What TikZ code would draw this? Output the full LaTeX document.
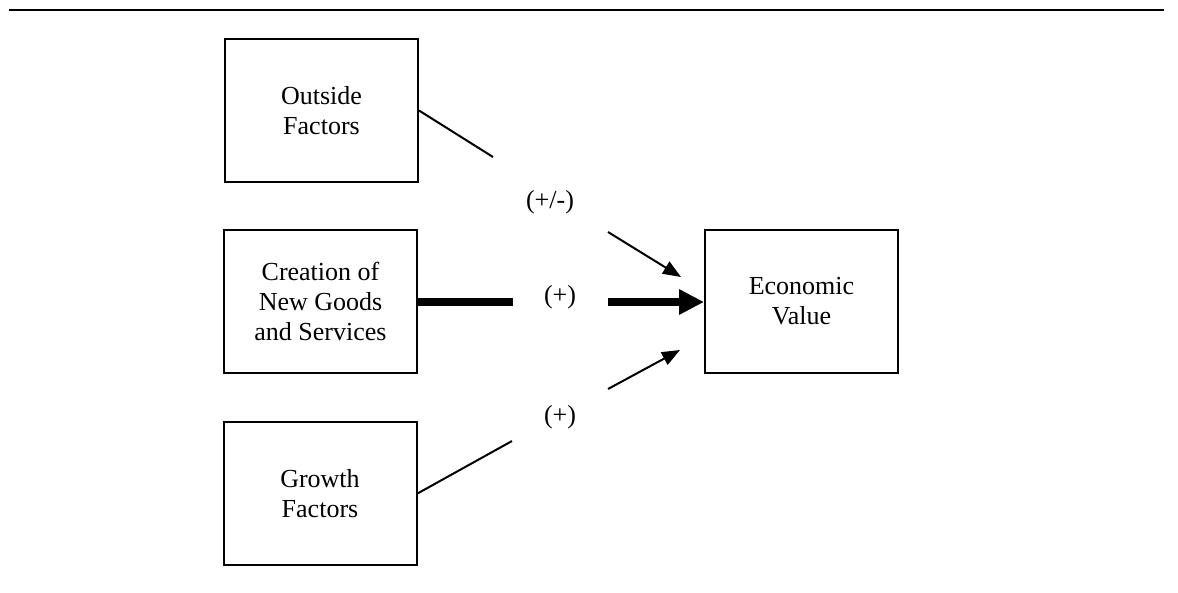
\documentclass[tikz,border=0pt]{standalone}
\usepackage{fontspec}
\setmainfont{Liberation Serif}
\usetikzlibrary{arrows.meta}
\begin{document}
\begin{tikzpicture}[x=1pt,y=-1pt,
  box/.style={draw, line width=2pt, minimum width=193pt, minimum height=143pt,
    inner sep=0pt, align=center, font=\fontsize{26}{30}\selectfont},
  sign/.style={inner sep=0pt, font=\fontsize{26}{30}\selectfont},
  thin link/.style={line width=2pt},
  thin arrow/.style={line width=2pt, -{Triangle[length=18pt,width=14pt]}},
  thick link/.style={line width=8pt},
  thick arrow/.style={line width=8pt, -{Triangle[length=25pt,width=24pt]}}]
\useasboundingbox (0,0) rectangle (1178,592);
% rule across the top
\draw[line width=2.5pt] (9,10) -- (1164,10);
% boxes
\node[box] (out) at (321.5,110.5) {Outside\\Factors};
\node[box] (cre) at (320.5,301.5) {Creation of\\New Goods\\and Services};
\node[box] (gro) at (320,493.5) {Growth\\Factors};
\node[box] (eco) at (801.5,301.5) {Economic\\Value};
% signs on the links
\node[sign] (s1) at (550,202) {(+/-)};
\node[sign] (s2) at (560,297) {(+)};
\node[sign] (s3) at (560,417) {(+)};
% ends of the broken links
\coordinate (a1) at (493,157);
\coordinate (a2) at (608,232);
\coordinate (a3) at (681,277);
\coordinate (b1) at (513,302);
\coordinate (b2) at (608,302);
\coordinate (c1) at (512,441);
\coordinate (c2) at (608,389);
\coordinate (c3) at (680,350);
% outside factors
\draw[thin link] (out.east) -- (a1);
\draw[thin arrow] (a2) -- (a3);
% creation of new goods and services
\draw[thick link] (cre.east |- b1) -- (b1);
\draw[thick arrow] (b2) -- (eco.west |- b2);
% growth factors
\draw[thin link] (gro.east) -- (c1);
\draw[thin arrow] (c2) -- (c3);
\end{tikzpicture}
\end{document}
